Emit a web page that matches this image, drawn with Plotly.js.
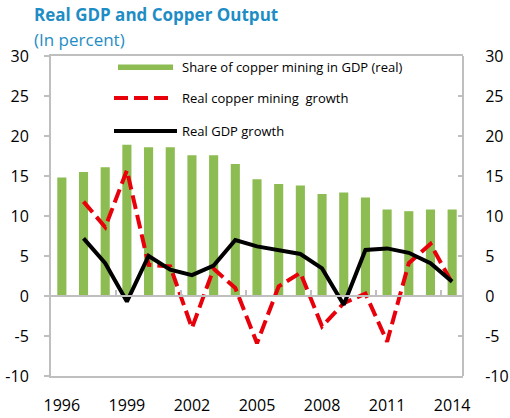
<!DOCTYPE html>
<html>
<head>
<meta charset="utf-8">
<script src="https://cdn.plot.ly/plotly-3.0.1.min.js"></script>
<style>html,body{margin:0;padding:0;background:#fff;}#chart{width:510px;height:418px;}</style>
</head>
<body>
<div id="chart"></div>
<script>
// ---- data ----
const years = ['1996','1997','1998','1999','2000','2001','2002','2003','2004','2005','2006','2007','2008','2009','2010','2011','2012','2013','2014'];
const shareCopper = [14.8, 15.5, 16.1, 18.9, 18.6, 18.6, 17.6, 17.6, 16.5, 14.6, 14.0, 13.8, 12.75, 12.95, 12.3, 10.8, 10.6, 10.8, 10.8];
const copperGrowth = [null, 11.8, 8.6, 15.7, 3.9, 3.7, -4.0, 3.4, 1.0, -5.9, 1.2, 2.9, -3.8, -0.9, 0.3, -5.7, 4.1, 6.5, 1.6];
const gdpGrowth = [null, 7.2, 4.1, -0.7, 5.0, 3.3, 2.6, 3.8, 7.0, 6.2, 5.7, 5.25, 3.45, -1.1, 5.75, 5.95, 5.4, 4.1, 1.8];
const xTickLabels = ['1996','1999','2002','2005','2008','2011','2014'];
const groupTicks = [2.5, 5.5, 8.5, 11.5, 14.5, 17.5];
const yTicks = [-10, -5, 0, 5, 10, 15, 20, 25, 30];
const yTickText = ['-10', '-5', '0', '5', '10', '15', '20', '25', '30'];
const seriesNames = ['Share of copper mining in GDP (real)', 'Real copper mining  growth', 'Real GDP growth'];
const titleText = 'Real GDP and Copper Output';
const subtitleText = '(In percent)';

// ---- style ----
const GREEN = '#8cbc52', RED = '#e8000b', BLACK = '#000000', GRID = '#bfbfbf', TITLE = '#1f8dc5';
const FONT = '"Open Sans", "Noto Sans", sans-serif';
const W = 510, H = 418, L = 51, R = 47, T = 56, B = 42;
const pw = W - L - R, ph = H - T - B;
const px2x = p => (p - L) / pw;
const py2y = p => (H - B - p) / ph;

const traces = [
  {type: 'bar', x: years, y: shareCopper, name: seriesNames[0], marker: {color: GREEN}, showlegend: false, xaxis: 'x', yaxis: 'y'},
  {type: 'scatter', mode: 'lines', x: years, y: copperGrowth, name: seriesNames[1], line: {color: RED, width: 4, dash: '14px,6px'}, showlegend: false, xaxis: 'x', yaxis: 'y'},
  {type: 'scatter', mode: 'lines', x: years, y: gdpGrowth, name: seriesNames[2], line: {color: BLACK, width: 4}, showlegend: false, xaxis: 'x2', yaxis: 'y2'}
];

// custom legend (samples + labels)
const legRows = [67, 98, 131];
const shapes = [
  {type: 'rect', xref: 'paper', yref: 'paper', x0: px2x(118), x1: px2x(173), y0: py2y(70), y1: py2y(64.5), fillcolor: GREEN, line: {width: 0}},
  {type: 'line', xref: 'paper', yref: 'paper', x0: px2x(114), x1: px2x(172), y0: py2y(legRows[1]), y1: py2y(legRows[1]), line: {color: RED, width: 4, dash: '14px,6px'}},
  {type: 'line', xref: 'paper', yref: 'paper', x0: px2x(114), x1: px2x(177), y0: py2y(legRows[2]), y1: py2y(legRows[2]), line: {color: BLACK, width: 4}}
];
const annotations = seriesNames.map((n, i) => ({
  text: n, xref: 'paper', yref: 'paper', x: px2x(180), y: py2y(legRows[i]), xanchor: 'left', yanchor: 'middle',
  showarrow: false, font: {family: FONT, size: 13, color: '#000'}
}));
annotations.push({
  text: subtitleText, xref: 'paper', yref: 'paper', x: px2x(32), y: py2y(40), xanchor: 'left', yanchor: 'middle',
  showarrow: false, font: {family: FONT, size: 17, color: TITLE}
});

const layout = {
  width: W, height: H,
  margin: {l: L, r: R, t: T, b: B, pad: 0},
  paper_bgcolor: '#fff', plot_bgcolor: '#fff',
  showlegend: false,
  bargap: 0.58,
  title: {text: '<b>' + titleText + '</b>', x: 34 / W, xanchor: 'left', xref: 'container', y: 1 - 15 / H, yref: 'container', yanchor: 'middle', font: {family: FONT, size: 17, color: TITLE}},
  xaxis: {
    type: 'category', range: [-0.5, 18.5], showgrid: false, zeroline: false,
    showline: true, linecolor: GRID, linewidth: 2, mirror: true,
    tickvals: xTickLabels, ticktext: xTickLabels, ticks: '', ticklabelstandoff: 14,
    tickfont: {family: FONT, size: 16, color: '#000'}
  },
  xaxis2: {
    type: 'category', range: [-0.5, 18.5], overlaying: 'x', anchor: 'free', position: 0.25, side: 'bottom',
    showgrid: false, zeroline: false, showline: true, linecolor: GRID, linewidth: 2,
    tickvals: groupTicks, ticks: 'inside', ticklen: 5, tickcolor: GRID, tickwidth: 2, showticklabels: false
  },
  yaxis: {
    range: [-10, 30], tickvals: yTicks, ticktext: yTickText, showgrid: false, zeroline: false,
    showline: true, linecolor: GRID, linewidth: 2, ticks: 'outside', ticklen: 5, tickcolor: GRID, tickwidth: 2,
    ticklabelstandoff: 12, tickfont: {family: FONT, size: 16, color: '#000'}
  },
  yaxis2: {
    range: [-10, 30], tickvals: yTicks, ticktext: yTickText, overlaying: 'y', side: 'right', anchor: 'free', position: 1,
    showgrid: false, zeroline: false,
    showline: true, linecolor: GRID, linewidth: 2, ticks: 'inside', ticklen: 4, tickcolor: GRID, tickwidth: 2,
    ticklabelstandoff: 18, tickfont: {family: FONT, size: 16, color: '#000'}
  },
  shapes: shapes,
  annotations: annotations
};

Plotly.newPlot('chart', traces, layout, {staticPlot: true, displayModeBar: false});
</script>
</body>
</html>
